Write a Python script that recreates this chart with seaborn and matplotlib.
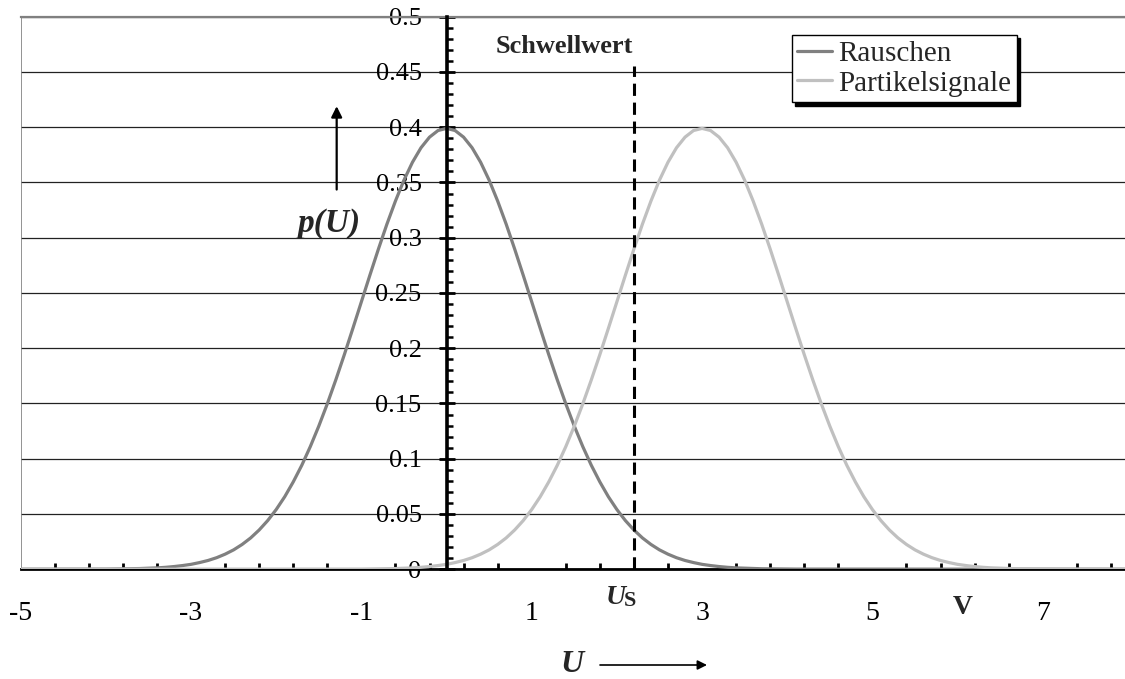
import matplotlib
matplotlib.use("Agg")
import matplotlib.pyplot as plt
from matplotlib.ticker import MultipleLocator, FormatStrFormatter, FuncFormatter
import seaborn as sns
import pandas as pd

# ---------------- data ----------------
U = [-5.0, -4.9, -4.8, -4.7, -4.6, -4.5, -4.4, -4.3, -4.2, -4.1,
     -4.0, -3.9, -3.8, -3.7, -3.6, -3.5, -3.4, -3.3, -3.2, -3.1,
     -3.0, -2.9, -2.8, -2.7, -2.6, -2.5, -2.4, -2.3, -2.2, -2.1,
     -2.0, -1.9, -1.8, -1.7, -1.6, -1.5, -1.4, -1.3, -1.2, -1.1,
     -1.0, -0.9, -0.8, -0.7, -0.6, -0.5, -0.4, -0.3, -0.2, -0.1,
     0.0, 0.1, 0.2, 0.3, 0.4, 0.5, 0.6, 0.7, 0.8, 0.9,
     1.0, 1.1, 1.2, 1.3, 1.4, 1.5, 1.6, 1.7, 1.8, 1.9,
     2.0, 2.1, 2.2, 2.3, 2.4, 2.5, 2.6, 2.7, 2.8, 2.9,
     3.0, 3.1, 3.2, 3.3, 3.4, 3.5, 3.6, 3.7, 3.8, 3.9,
     4.0, 4.1, 4.2, 4.3, 4.4, 4.5, 4.6, 4.7, 4.8, 4.9,
     5.0, 5.1, 5.2, 5.3, 5.4, 5.5, 5.6, 5.7, 5.8, 5.9,
     6.0, 6.1, 6.2, 6.3, 6.4, 6.5, 6.6, 6.7, 6.8, 6.9,
     7.0, 7.1, 7.2, 7.3, 7.4, 7.5, 7.6, 7.7, 7.8, 7.9,
     8.0]

rauschen = [
    0.0000, 0.0000, 0.0000, 0.0000, 0.0000, 0.0000, 0.0000, 0.0000, 0.0001, 0.0001,
    0.0001, 0.0002, 0.0003, 0.0004, 0.0006, 0.0009, 0.0012, 0.0017, 0.0024, 0.0033,
    0.0044, 0.0060, 0.0079, 0.0104, 0.0136, 0.0175, 0.0224, 0.0283, 0.0355, 0.0440,
    0.0540, 0.0656, 0.0790, 0.0940, 0.1109, 0.1295, 0.1497, 0.1714, 0.1942, 0.2179,
    0.2420, 0.2661, 0.2897, 0.3123, 0.3332, 0.3521, 0.3683, 0.3814, 0.3910, 0.3970,
    0.3989, 0.3970, 0.3910, 0.3814, 0.3683, 0.3521, 0.3332, 0.3123, 0.2897, 0.2661,
    0.2420, 0.2179, 0.1942, 0.1714, 0.1497, 0.1295, 0.1109, 0.0940, 0.0790, 0.0656,
    0.0540, 0.0440, 0.0355, 0.0283, 0.0224, 0.0175, 0.0136, 0.0104, 0.0079, 0.0060,
    0.0044, 0.0033, 0.0024, 0.0017, 0.0012, 0.0009, 0.0006, 0.0004, 0.0003, 0.0002,
    0.0001, 0.0001, 0.0001, 0.0000, 0.0000, 0.0000, 0.0000, 0.0000, 0.0000, 0.0000,
    0.0000, 0.0000, 0.0000, 0.0000, 0.0000, 0.0000, 0.0000, 0.0000, 0.0000, 0.0000,
    0.0000, 0.0000, 0.0000, 0.0000, 0.0000, 0.0000, 0.0000, 0.0000, 0.0000, 0.0000,
    0.0000, 0.0000, 0.0000, 0.0000, 0.0000, 0.0000, 0.0000, 0.0000, 0.0000, 0.0000,
    0.0000]

partikelsignale = [
    0.0000, 0.0000, 0.0000, 0.0000, 0.0000, 0.0000, 0.0000, 0.0000, 0.0000, 0.0000,
    0.0000, 0.0000, 0.0000, 0.0000, 0.0000, 0.0000, 0.0000, 0.0000, 0.0000, 0.0000,
    0.0000, 0.0000, 0.0000, 0.0000, 0.0000, 0.0000, 0.0000, 0.0000, 0.0000, 0.0000,
    0.0000, 0.0000, 0.0000, 0.0000, 0.0000, 0.0000, 0.0000, 0.0000, 0.0001, 0.0001,
    0.0001, 0.0002, 0.0003, 0.0004, 0.0006, 0.0009, 0.0012, 0.0017, 0.0024, 0.0033,
    0.0044, 0.0060, 0.0079, 0.0104, 0.0136, 0.0175, 0.0224, 0.0283, 0.0355, 0.0440,
    0.0540, 0.0656, 0.0790, 0.0940, 0.1109, 0.1295, 0.1497, 0.1714, 0.1942, 0.2179,
    0.2420, 0.2661, 0.2897, 0.3123, 0.3332, 0.3521, 0.3683, 0.3814, 0.3910, 0.3970,
    0.3989, 0.3970, 0.3910, 0.3814, 0.3683, 0.3521, 0.3332, 0.3123, 0.2897, 0.2661,
    0.2420, 0.2179, 0.1942, 0.1714, 0.1497, 0.1295, 0.1109, 0.0940, 0.0790, 0.0656,
    0.0540, 0.0440, 0.0355, 0.0283, 0.0224, 0.0175, 0.0136, 0.0104, 0.0079, 0.0060,
    0.0044, 0.0033, 0.0024, 0.0017, 0.0012, 0.0009, 0.0006, 0.0004, 0.0003, 0.0002,
    0.0001, 0.0001, 0.0001, 0.0000, 0.0000, 0.0000, 0.0000, 0.0000, 0.0000, 0.0000,
    0.0000]

series_names = ["Rauschen", "Partikelsignale"]
series_colors = ["#808080", "#c0c0c0"]

schwellwert_U = 2.2        # threshold position U_S
schwellwert_top = 0.455    # top of the dashed threshold line

x_limits = (-5, 8)
y_limits = (0, 0.5)

assert len(U) == len(rauschen) == len(partikelsignale)

# ---------------- styling ----------------
sns.set_theme(style="white")
plt.rcParams["font.family"] = ["Liberation Serif", "DejaVu Serif"]

df = pd.DataFrame({
    "U": U * 2,
    "p": rauschen + partikelsignale,
    "Serie": [series_names[0]] * len(U) + [series_names[1]] * len(U),
})

fig = plt.figure(figsize=(11.25, 6.79), dpi=100)
ax = fig.add_axes([20.7 / 1125, 1 - 569.2 / 679, 1107.2 / 1125, 552.5 / 679])

sns.lineplot(data=df, x="U", y="p", hue="Serie", hue_order=series_names,
             palette=series_colors, linewidth=2.3, ax=ax, legend=False, zorder=3)

ax.set_xlim(*x_limits)
ax.set_ylim(*y_limits)
ax.set_xlabel("")
ax.set_ylabel("")

# grid lines
ax.yaxis.set_major_locator(MultipleLocator(0.05))
ax.yaxis.set_minor_locator(MultipleLocator(0.01))
ax.grid(axis="y", which="major", color="#222222", linewidth=0.9)
ax.grid(axis="x", visible=False)
ax.set_axisbelow(True)

# spines
ax.spines["left"].set_position(("data", 0))
ax.spines["left"].set_linewidth(2.6)
ax.spines["left"].set_color("black")
ax.spines["left"].set_zorder(4)
ax.spines["bottom"].set_linewidth(2.0)
ax.spines["bottom"].set_color("black")
ax.spines["top"].set_color("#808080")
ax.spines["top"].set_linewidth(1.6)
ax.spines["right"].set_visible(False)
ax.axvline(x_limits[0], color="#808080", linewidth=1.2, zorder=1)

# ticks
ax.xaxis.set_major_locator(MultipleLocator(2, offset=1))
ax.xaxis.set_minor_locator(MultipleLocator(0.4, offset=0.2))
ax.xaxis.set_major_formatter(FormatStrFormatter("%g"))
ax.yaxis.set_major_formatter(FuncFormatter(lambda v, p: "%g" % round(v, 3)))

ax.tick_params(axis="x", which="major", direction="inout", length=14, width=2.2,
               labelsize=20, pad=16, colors="black")
ax.tick_params(axis="x", which="minor", direction="in", length=4.5, width=2.0,
               colors="black", bottom=True)
ax.tick_params(axis="y", which="major", direction="inout", length=11, width=2.0,
               labelsize=19, pad=12.5, colors="black", left=True)
ax.tick_params(axis="y", which="minor", direction="in", length=4.5, width=1.8,
               colors="black", left=True)

# threshold line
ax.vlines(schwellwert_U, 0, schwellwert_top, colors="black", linestyles=(0, (4, 2.2)),
          linewidth=2.2, zorder=4)
ax.text(1.385, 0.4726, "Schwellwert", fontsize=19, fontweight="bold",
        ha="center", va="center")

# U_S label below the axis (bold italic U, bold S)
ax.text(1.984, -0.0256, "U", fontsize=20, fontweight="bold", fontstyle="italic",
        ha="center", va="center", clip_on=False)
ax.text(2.155, -0.0292, "S", fontsize=16, fontweight="bold",
        ha="center", va="center", clip_on=False)
# unit label "V"
fig.text(963 / 1125, 1 - 607 / 679, "V", fontsize=20, fontweight="bold",
         ha="center", va="center")

# p(U) with upward arrow
ax.text(-1.385, 0.3133, "p(U)", fontsize=24, fontweight="bold", fontstyle="italic",
        ha="center", va="center")
ax.annotate("", xy=(-1.29, 0.419), xytext=(-1.29, 0.3436),
            arrowprops=dict(arrowstyle="-|>", color="black", lw=1.6,
                            mutation_scale=16, shrinkA=0, shrinkB=0))

# x-axis label U with arrow
fig.text(572 / 1125, 1 - 664 / 679, "U", fontsize=23, fontweight="bold",
         fontstyle="italic", ha="center", va="center")
fig.add_artist(matplotlib.patches.FancyArrowPatch(
    (600 / 1125, 1 - 665 / 679), (707 / 1125, 1 - 665 / 679),
    transform=fig.transFigure, arrowstyle="-|>", mutation_scale=14,
    color="black", lw=1.2, shrinkA=0, shrinkB=0))

# legend
handles = [matplotlib.lines.Line2D([], [], color=c, linewidth=2.3) for c in series_colors]
leg = ax.legend(handles, series_names, loc="upper right",
                bbox_to_anchor=((1017 - 20.7) / 1107.2, (569.2 - 35) / 552.5),
                borderaxespad=0, fontsize=21, frameon=True, fancybox=False,
                edgecolor="black", framealpha=1,
                shadow={"color": "black", "alpha": 1, "ox": 2.5, "oy": -2.5},
                handlelength=1.2, handletextpad=0.2, borderpad=0.2,
                labelspacing=0.1)
leg.get_frame().set_linewidth(1.0)
leg.set_zorder(6)

fig.savefig("out.png", dpi=100)
